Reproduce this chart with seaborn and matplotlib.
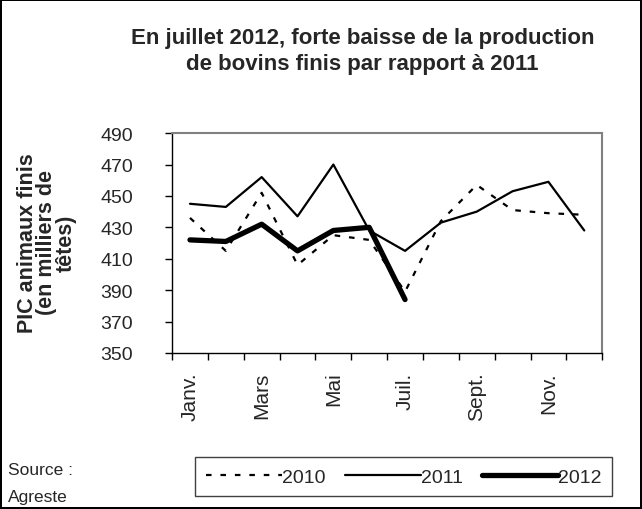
import pandas as pd
import matplotlib
matplotlib.use("Agg")
import matplotlib.pyplot as plt
import seaborn as sns

mois = ["Janv.", "Févr.", "Mars", "Avr.", "Mai", "Juin",
        "Juil.", "Août", "Sept.", "Oct.", "Nov.", "Déc."]
v2010 = [436, 415, 452, 406, 425, 422, 389, 434, 457, 441, 439, 438]
v2011 = [445, 443, 462, 437, 470, 428, 415, 433, 440, 453, 459, 428]
v2012 = [422, 421, 432, 415, 428, 430, 384]

sns.set_theme(style="white")
plt.rcParams["font.family"] = ["Liberation Sans", "DejaVu Sans"]

fig = plt.figure(figsize=(6.42, 5.10), dpi=100, linewidth=1.5, edgecolor="black")
ax = fig.add_axes([0.268, 0.306, 0.670, 0.431])

df10 = pd.DataFrame({"x": range(len(v2010)), "y": v2010})
df11 = pd.DataFrame({"x": range(len(v2011)), "y": v2011})
df12 = pd.DataFrame({"x": range(len(v2012)), "y": v2012})

sns.lineplot(data=df10, x="x", y="y", ax=ax, color="black", lw=1.6,
             linestyle=(0, (2.5, 4)), label="2010")
sns.lineplot(data=df11, x="x", y="y", ax=ax, color="black", lw=1.6, label="2011")
sns.lineplot(data=df12, x="x", y="y", ax=ax, color="black", lw=3.8, label="2012")

ax.set_xlim(-0.5, 11.5)
ax.set_ylim(350, 490)
ax.set_yticks(range(350, 491, 20))
ax.set_xticks(range(0, 12, 2))
ax.set_xticklabels(mois[::2], rotation=90)
ax.set_xticks([i - 0.5 for i in range(13)], minor=True)
ax.tick_params(axis="x", which="major", length=0, labelsize=15, pad=13.5)
ax.tick_params(axis="x", which="minor", length=5, width=1, color="black", bottom=True)
ax.tick_params(axis="y", length=5, width=1, color="black", left=True, labelsize=14, pad=23)
ax.set_xlabel("")
ax.set_ylabel("PIC animaux finis\n(en milliers de\ntêtes)", fontsize=15.5,
              fontweight="bold", linespacing=0.9)
ax.yaxis.set_label_coords(-0.222, 0.505)

for s in ["top", "right"]:
    ax.spines[s].set_color("#808080")
    ax.spines[s].set_linewidth(1.5)
for s in ["left", "bottom"]:
    ax.spines[s].set_color("black")
    ax.spines[s].set_linewidth(1)

fig.suptitle("En juillet 2012, forte baisse de la production\nde bovins finis par rapport à 2011",
             x=0.565, y=0.945, va="top", fontsize=16, fontweight="bold", linespacing=1.3)

ax.get_legend().remove()
h, l = ax.get_legend_handles_labels()
leg = fig.legend(h, l, loc="center", bbox_to_anchor=(0.629, 0.063), ncol=3,
                 handlelength=3.9, handletextpad=0.0, columnspacing=1.0,
                 fontsize=14, frameon=True, fancybox=False, framealpha=1,
                 edgecolor="#404040", borderpad=0.55, borderaxespad=0)
leg.get_frame().set_linewidth(1.0)

fig.text(0.012, 0.077, "Source :", fontsize=12.5, va="center")
fig.text(0.012, 0.025, "Agreste", fontsize=12.5, va="center")

fig.savefig("out.png", dpi=100)
